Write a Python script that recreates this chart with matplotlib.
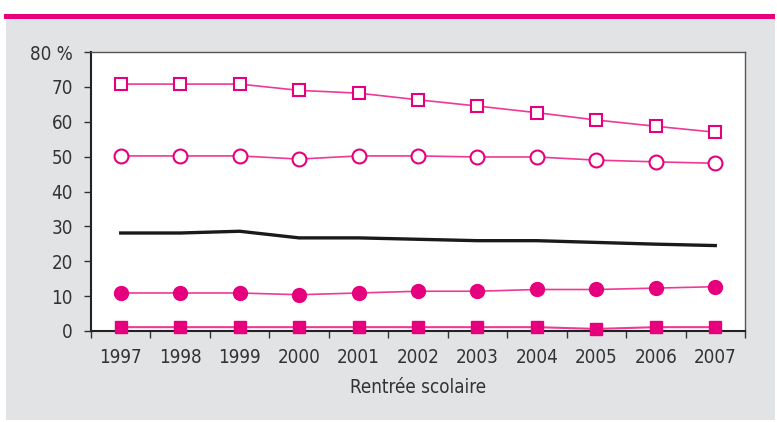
import matplotlib.pyplot as plt
from matplotlib.patches import Rectangle
from matplotlib.ticker import FixedLocator

plt.rcParams["font.family"] = ["DejaVu Sans"]
plt.rcParams["font.stretch"] = "condensed"

YEARS = ["1997", "1998", "1999", "2000", "2001", "2002", "2003", "2004", "2005", "2006", "2007"]
OPEN_SQUARES = [70.8, 70.8, 70.8, 69.0, 68.2, 66.3, 64.5, 62.6, 60.5, 58.7, 57.0]
OPEN_CIRCLES = [50.2, 50.2, 50.2, 49.3, 50.2, 50.2, 49.9, 49.9, 49.0, 48.5, 48.1]
BLACK_LINE = [28.1, 28.1, 28.6, 26.7, 26.7, 26.3, 25.9, 25.9, 25.4, 24.9, 24.5]
FILLED_CIRCLES = [10.9, 10.9, 10.9, 10.4, 10.9, 11.4, 11.4, 11.9, 11.9, 12.3, 12.7]
FILLED_SQUARES = [1.1, 1.1, 1.1, 1.1, 1.1, 1.1, 1.1, 1.1, 0.6, 1.1, 1.1]
Y_TICKS = [0, 10, 20, 30, 40, 50, 60, 70, 80]
Y_LABELS = ["0", "10", "20", "30", "40", "50", "60", "70", "80 %"]

PINK = "#e6007e"
LINE_PINK = "#ee3a95"
GREY = "#e2e3e5"

fig = plt.figure(figsize=(7.77, 4.22), dpi=100)
W, H = 777, 422

# grey panel + pink header bar, kept behind the axes
fig.patches.append(Rectangle((6 / W, 1 - 420 / H), 769 / W, 401 / H,
                             transform=fig.transFigure, facecolor=GREY, edgecolor="none", zorder=-2))
fig.patches.append(Rectangle((4 / W, 1 - 19 / H), 771 / W, 5 / H,
                             transform=fig.transFigure, facecolor=PINK, edgecolor="none", zorder=-1))

ax = fig.add_axes([91 / W, 1 - 331 / H, 654 / W, 279 / H])
ax.set_zorder(2)
ax.set_facecolor("white")
x = list(range(len(YEARS)))

ax.plot(x, OPEN_SQUARES, color=LINE_PINK, lw=1.2, marker="s", ms=8,
        mfc="white", mec=PINK, mew=1.5, zorder=3)
ax.plot(x, OPEN_CIRCLES, color=LINE_PINK, lw=1.2, marker="o", ms=10,
        mfc="white", mec=PINK, mew=1.5, zorder=3)
ax.plot(x, BLACK_LINE, color="#1a1a1a", lw=2.4, zorder=3)
ax.plot(x, FILLED_CIRCLES, color=LINE_PINK, lw=1.2, marker="o", ms=10,
        mfc=PINK, mec=PINK, zorder=3)
ax.plot(x, FILLED_SQUARES, color=LINE_PINK, lw=1.5, marker="s", ms=8,
        mfc=PINK, mec=PINK, zorder=3, clip_on=False)

ax.set_xlim(-0.5, len(YEARS) - 0.5)
ax.set_ylim(0, 80)
ax.set_yticks(Y_TICKS)
ax.set_yticklabels(Y_LABELS, fontsize=13.5, color="#333333")
ax.set_xticks(x)
ax.set_xticklabels(YEARS, fontsize=13.5, color="#333333")
ax.tick_params(axis="x", which="major", length=0, pad=12)
ax.xaxis.set_minor_locator(FixedLocator([i - 0.5 for i in range(len(YEARS) + 1)]))
ax.tick_params(axis="x", which="minor", length=5, width=1, color="#333333")
ax.tick_params(axis="y", length=5, width=1, color="#333333", pad=8)
ax.set_xlabel("Rentrée scolaire", fontsize=13.5, color="#333333", labelpad=8)

for side in ["left", "bottom"]:
    ax.spines[side].set_color("#222222")
    ax.spines[side].set_linewidth(1.5)
for side in ["top", "right"]:
    ax.spines[side].set_color("#555555")
    ax.spines[side].set_linewidth(1.0)

fig.savefig("out.png", dpi=100)
